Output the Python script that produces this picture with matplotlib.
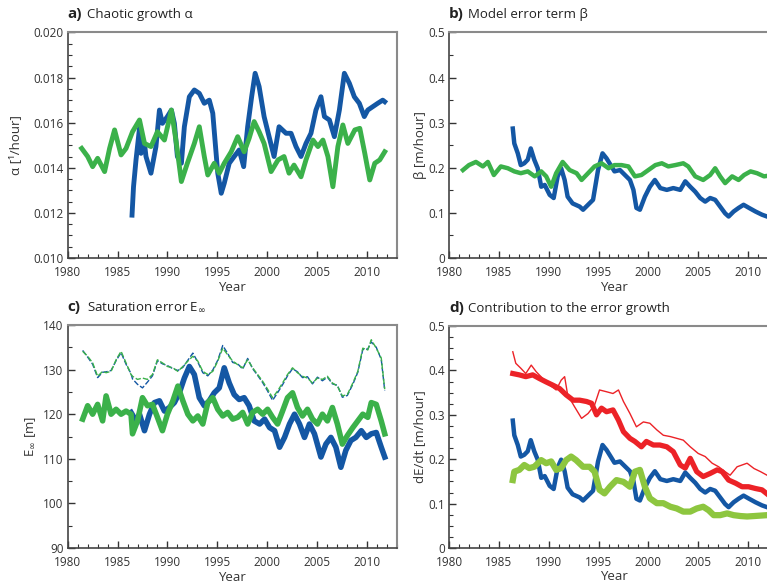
import matplotlib
matplotlib.use("Agg")
import matplotlib.pyplot as plt
from matplotlib.ticker import MultipleLocator, FormatStrFormatter

plt.rcParams['font.family'] = ['Open Sans', 'DejaVu Sans']

blue = "#1457a4"
green = "#3bb14a"
red = "#ec2227"
lightgreen = "#8dc63f"
textcol = "#333333"

# ---- panel a: chaotic growth alpha (units of 1e-3 /hour)
a_green_yr = [1981.4, 1982.0, 1982.5, 1983.0, 1983.7, 1984.2, 1984.7, 1985.35, 1985.85, 1986.5,
              1987.2, 1987.7, 1988.35, 1989.0, 1989.7, 1990.4, 1990.9, 1991.4, 1992.0, 1992.7,
              1993.2, 1993.7, 1994.05, 1994.7, 1995.2, 1995.7, 1996.4, 1997.05, 1997.7, 1998.2,
              1998.7, 1999.2, 1999.7, 2000.4, 2001.1, 2001.7, 2002.2, 2002.7, 2003.4, 2003.9,
              2004.6, 2005.1, 2005.6, 2006.1, 2006.6, 2007.1, 2007.6, 2008.1, 2008.8, 2009.3,
              2009.8, 2010.3, 2010.8, 2011.3, 2011.8]
a_green = [14.86, 14.5, 14.05, 14.42, 13.83, 14.86, 15.68, 14.57, 14.86, 15.6,
           16.12, 15.08, 14.94, 15.6, 15.23, 16.56, 15.08, 13.39, 14.2, 15.08,
           15.82, 14.5, 13.68, 14.2, 13.76, 14.2, 14.71, 15.38, 14.71, 15.31,
           16.05, 15.6, 15.08, 13.83, 14.35, 14.5, 13.76, 14.12, 13.6, 14.35,
           15.23, 14.94, 15.23, 14.5, 13.16, 14.94, 15.9, 15.08, 15.68, 15.75,
           14.64, 13.46, 14.2, 14.35, 14.71]
a_blue_yr = [1986.45, 1986.6, 1986.85, 1987.2, 1987.35, 1987.7, 1987.85, 1988.35, 1988.85, 1989.2,
             1989.5, 1990.0, 1990.4, 1990.7, 1991.0, 1991.4, 1991.7, 1992.2, 1992.7, 1993.2,
             1993.7, 1994.2, 1994.55, 1995.05, 1995.4, 1995.7, 1996.2, 1996.7, 1997.2, 1997.65,
             1998.05, 1998.45, 1998.8, 1999.2, 1999.7, 2000.2, 2000.7, 2001.2, 2001.9, 2002.4,
             2002.9, 2003.4, 2003.9, 2004.4, 2004.9, 2005.4, 2005.75, 2006.25, 2006.75, 2007.25,
             2007.75, 2008.25, 2008.75, 2009.25, 2009.75, 2010.1, 2010.6, 2011.1, 2011.6, 2011.8]
a_blue = [11.9, 13.16, 14.35, 15.75, 14.64, 15.08, 14.5, 13.76, 14.94, 16.56,
          15.97, 16.27, 16.56, 15.97, 14.5, 14.2, 15.82, 17.15, 17.45, 17.3,
          16.86, 17.0, 16.42, 13.76, 12.87, 13.31, 14.2, 14.5, 14.79, 14.05,
          15.82, 17.15, 18.19, 17.6, 16.27, 15.38, 14.5, 15.82, 15.53, 15.53,
          14.94, 14.5, 15.08, 15.53, 16.56, 17.15, 16.27, 16.12, 15.38, 16.56,
          18.19, 17.75, 17.15, 16.86, 16.27, 16.56, 16.71, 16.86, 17.0, 16.93]

# ---- panel b: model error term beta (m/hour), blue is reused in panel d
b_green_yr = [1981.4, 1982.0, 1982.7, 1983.4, 1983.9, 1984.5, 1985.2, 1985.9, 1986.55, 1987.2,
              1987.9, 1988.6, 1989.25, 1989.75, 1990.25, 1990.75, 1991.4, 1992.1, 1992.8, 1993.3,
              1993.95, 1994.6, 1995.3, 1996.0, 1996.6, 1997.3, 1998.0, 1998.65, 1999.3, 2000.0,
              2000.7, 2001.35, 2002.0, 2002.7, 2003.5, 2004.0, 2004.7, 2005.5, 2006.2, 2006.7,
              2007.2, 2007.7, 2008.4, 2009.05, 2009.6, 2010.25, 2010.9, 2011.6, 2011.9]
b_green = [0.195, 0.206, 0.213, 0.203, 0.213, 0.184, 0.203, 0.199, 0.192, 0.188,
           0.192, 0.181, 0.192, 0.181, 0.158, 0.188, 0.213, 0.195, 0.188, 0.173,
           0.188, 0.203, 0.210, 0.199, 0.206, 0.206, 0.203, 0.181, 0.184, 0.195,
           0.206, 0.210, 0.203, 0.206, 0.210, 0.203, 0.181, 0.173, 0.184, 0.199,
           0.181, 0.166, 0.181, 0.173, 0.184, 0.192, 0.188, 0.181, 0.182]
b_blue_yr = [1986.4, 1986.55, 1986.9, 1987.2, 1987.55, 1987.9, 1988.2, 1988.55, 1988.9, 1989.25,
             1989.6, 1990.1, 1990.5, 1990.9, 1991.25, 1991.6, 1991.9, 1992.4, 1993.1, 1993.45,
             1993.95, 1994.45, 1994.95, 1995.4, 1995.8, 1996.3, 1996.6, 1997.15, 1997.65, 1998.15,
             1998.5, 1998.8, 1999.15, 1999.65, 2000.15, 2000.65, 2001.2, 2001.85, 2002.5, 2003.2,
             2003.7, 2004.2, 2004.7, 2005.2, 2005.7, 2006.2, 2006.7, 2007.2, 2007.7, 2008.05,
             2008.55, 2009.05, 2009.55, 2010.1, 2010.75, 2011.4, 2011.9]
b_blue = [0.287, 0.254, 0.232, 0.206, 0.210, 0.218, 0.243, 0.218, 0.199, 0.158,
          0.162, 0.140, 0.133, 0.181, 0.199, 0.173, 0.136, 0.121, 0.114, 0.107,
          0.118, 0.129, 0.195, 0.232, 0.221, 0.203, 0.192, 0.195, 0.184, 0.173,
          0.151, 0.111, 0.107, 0.136, 0.158, 0.173, 0.155, 0.151, 0.155, 0.151,
          0.170, 0.158, 0.147, 0.133, 0.125, 0.133, 0.129, 0.114, 0.099, 0.092,
          0.103, 0.111, 0.118, 0.111, 0.103, 0.096, 0.092]

# ---- panel c: saturation error (m)
c_yr = [1981.5, 1982.0, 1982.5, 1983.0, 1983.5, 1983.85, 1984.35, 1984.85, 1985.35, 1985.85,
        1986.35, 1986.5, 1987.0, 1987.5, 1988.0, 1988.5, 1989.0, 1989.5, 1990.0, 1990.55,
        1991.05, 1991.55, 1992.05, 1992.55, 1993.05, 1993.55, 1994.05, 1994.55, 1995.05, 1995.55,
        1996.05, 1996.55, 1997.05, 1997.55, 1998.05, 1998.55, 1999.05, 1999.55, 2000.05, 2000.55,
        2001.05, 2001.55, 2002.05, 2002.55, 2003.05, 2003.55, 2004.05, 2004.55, 2005.05, 2005.55,
        2006.05, 2006.55, 2007.05, 2007.55, 2008.05, 2008.6, 2009.1, 2009.6, 2010.1, 2010.45,
        2010.95, 2011.45, 2011.8]
c_green = [118.9, 121.9, 120.0, 122.2, 118.5, 124.1, 120.0, 121.1, 120.0, 120.7,
           120.0, 115.6, 118.5, 123.7, 121.9, 122.2, 119.3, 116.3, 120.0, 123.0,
           126.3, 123.0, 120.0, 118.5, 119.6, 117.8, 122.6, 123.7, 121.1, 119.6,
           120.4, 118.9, 119.3, 120.4, 117.8, 120.4, 121.1, 120.0, 121.1, 119.3,
           117.8, 120.7, 123.7, 124.8, 121.5, 119.6, 121.1, 118.9, 117.8, 120.0,
           118.5, 121.5, 117.8, 113.3, 115.2, 117.0, 118.5, 120.0, 119.3, 122.6,
           122.2, 118.5, 115.6]
c_green_dash = [134.1, 133.0, 131.5, 128.5, 129.6, 129.3, 129.6, 132.2, 134.1, 131.5,
                128.9, 128.5, 127.8, 128.1, 127.8, 128.9, 132.2, 131.5, 130.7, 130.4,
                129.6, 130.7, 131.9, 133.0, 131.9, 129.6, 128.9, 129.6, 131.9, 134.8,
                133.3, 131.9, 131.1, 130.4, 132.2, 130.4, 128.9, 127.4, 125.6, 123.7,
                125.2, 127.0, 128.9, 130.4, 129.3, 128.5, 128.1, 127.0, 128.1, 127.8,
                128.5, 127.0, 126.3, 124.1, 124.4, 127.0, 129.6, 134.8, 134.4, 136.7,
                134.8, 132.6, 125.6]
c_blue_dash = [134.3, 132.8, 131.2, 128.2, 129.4, 129.5, 129.8, 132.0, 133.8, 131.2,
               129.1, 127.9, 126.7, 125.9, 127.2, 128.6, 132.0, 131.3, 130.9, 130.2,
               129.8, 130.5, 132.1, 133.7, 131.7, 129.3, 128.6, 129.9, 132.1, 135.4,
               133.6, 131.6, 131.3, 130.1, 132.5, 130.2, 128.7, 127.1, 125.2, 123.1,
               124.8, 126.6, 128.6, 130.2, 129.5, 128.2, 128.4, 126.8, 128.3, 127.5,
               128.3, 126.8, 126.5, 123.8, 124.2, 126.7, 129.4, 134.5, 134.6, 136.2,
               135.0, 132.3, 125.3]
c_blue_yr = [1986.35, 1986.85, 1987.2, 1987.7, 1988.2, 1988.7, 1989.2, 1989.7, 1990.2, 1990.7,
             1991.2, 1991.7, 1992.2, 1992.7, 1993.2, 1993.7, 1994.2, 1994.7, 1995.2, 1995.7,
             1996.2, 1996.7, 1997.2, 1997.7, 1998.2, 1998.7, 1999.25, 1999.75, 2000.25, 2000.75,
             2001.25, 2001.75, 2002.25, 2002.75, 2003.25, 2003.75, 2004.25, 2004.75, 2005.4, 2005.9,
             2006.4, 2006.9, 2007.4, 2007.9, 2008.4, 2008.9, 2009.45, 2009.95, 2010.45, 2010.95,
             2011.45, 2011.8]
c_blue = [120.4, 118.5, 120.0, 116.3, 120.0, 122.6, 123.0, 120.7, 121.5, 122.6,
          124.8, 128.1, 130.7, 128.9, 123.7, 121.9, 123.0, 124.8, 125.9, 130.4,
          127.0, 124.4, 123.3, 123.7, 121.9, 118.5, 117.8, 118.9, 117.0, 116.3,
          112.6, 114.8, 117.8, 120.0, 117.8, 114.8, 117.8, 115.6, 110.4, 113.3,
          114.8, 112.6, 108.1, 111.9, 114.1, 114.8, 116.3, 114.8, 115.6, 115.9,
          112.6, 110.4]

# ---- panel d: contribution to the error growth (m/hour)
d_red_thin_yr = [1986.4, 1986.7, 1987.2, 1987.7, 1988.25, 1988.75, 1989.4, 1990.1, 1990.75, 1991.25,
                 1991.6, 1991.9, 1992.6, 1993.3, 1993.95, 1994.6, 1995.1, 1995.8, 1996.45, 1997.0,
                 1997.5, 1998.15, 1998.8, 1999.5, 2000.15, 2000.85, 2001.5, 2002.2, 2002.85, 2003.5,
                 2004.2, 2005.0, 2005.7, 2006.4, 2007.05, 2007.7, 2008.2, 2008.9, 2009.4, 2009.9,
                 2010.6, 2011.25, 2011.9]
d_red_thin = [0.442, 0.416, 0.405, 0.393, 0.412, 0.397, 0.382, 0.367, 0.356, 0.378,
              0.386, 0.345, 0.318, 0.292, 0.303, 0.322, 0.356, 0.352, 0.348, 0.356,
              0.330, 0.303, 0.273, 0.284, 0.281, 0.266, 0.254, 0.251, 0.247, 0.243,
              0.228, 0.213, 0.206, 0.191, 0.183, 0.172, 0.164, 0.183, 0.187, 0.191,
              0.179, 0.172, 0.164]
d_red_yr = [1986.4, 1987.05, 1987.7, 1988.4, 1989.05, 1989.75, 1990.4, 1991.1, 1991.75, 1992.45,
            1993.1, 1993.8, 1994.3, 1994.8, 1995.3, 1995.8, 1996.45, 1997.0, 1997.5, 1998.15,
            1998.65, 1999.3, 1999.8, 2000.5, 2001.15, 2001.85, 2002.5, 2003.2, 2003.7, 2004.2,
            2004.85, 2005.5, 2006.2, 2006.9, 2007.4, 2008.05, 2008.75, 2009.4, 2010.05, 2010.75,
            2011.4, 2011.9]
d_red = [0.393, 0.390, 0.386, 0.390, 0.382, 0.374, 0.367, 0.359, 0.345, 0.333,
         0.333, 0.330, 0.326, 0.300, 0.315, 0.307, 0.311, 0.288, 0.262, 0.247,
         0.240, 0.228, 0.240, 0.232, 0.232, 0.228, 0.217, 0.187, 0.180, 0.202,
         0.172, 0.161, 0.168, 0.176, 0.172, 0.153, 0.146, 0.138, 0.138, 0.134,
         0.131, 0.122]
d_green_yr = [1986.4, 1986.55, 1987.05, 1987.55, 1988.05, 1988.55, 1989.25, 1989.75, 1990.25, 1990.75,
              1991.25, 1991.75, 1992.25, 1992.75, 1993.45, 1994.1, 1994.6, 1995.1, 1995.6, 1996.15,
              1996.8, 1997.5, 1998.15, 1998.65, 1999.15, 1999.65, 2000.15, 2000.85, 2001.5, 2002.2,
              2002.85, 2003.5, 2004.2, 2004.85, 2005.5, 2006.05, 2006.55, 2007.2, 2007.9, 2008.55,
              2009.25, 2009.9, 2010.6, 2011.25, 2011.9]
d_green = [0.153, 0.172, 0.176, 0.187, 0.180, 0.183, 0.198, 0.191, 0.195, 0.176,
           0.180, 0.198, 0.206, 0.198, 0.183, 0.183, 0.172, 0.131, 0.123, 0.138,
           0.153, 0.149, 0.138, 0.172, 0.176, 0.138, 0.112, 0.101, 0.101, 0.093,
           0.089, 0.082, 0.082, 0.089, 0.093, 0.085, 0.074, 0.074, 0.078, 0.074,
           0.072, 0.071, 0.072, 0.073, 0.074]


fig = plt.figure(figsize=(7.67, 5.82), dpi=100)
ax_a = fig.add_axes([0.0883, 0.5567, 0.4289, 0.3875])
ax_b = fig.add_axes([0.5854, 0.5567, 0.4289, 0.3875])
ax_c = fig.add_axes([0.0883, 0.0584, 0.4289, 0.3832])
ax_d = fig.add_axes([0.5854, 0.0584, 0.4289, 0.3814])

ax_a.plot(a_blue_yr, [v / 1000 for v in a_blue], color=blue, lw=3.5)
ax_a.plot(a_green_yr, [v / 1000 for v in a_green], color=green, lw=3.5)

ax_b.plot(b_blue_yr, b_blue, color=blue, lw=3.2)
ax_b.plot(b_green_yr, b_green, color=green, lw=3.2)

ax_c.plot(c_yr, c_blue_dash, color=blue, lw=1, dashes=(4, 1.5))
ax_c.plot(c_yr, c_green_dash, color=green, lw=1, dashes=(4, 1.5))
ax_c.plot(c_blue_yr, c_blue, color=blue, lw=4)
ax_c.plot(c_yr, c_green, color=green, lw=4)

ax_d.plot(d_red_thin_yr, d_red_thin, color=red, lw=1)
ax_d.plot(d_red_yr, d_red, color=red, lw=3.8)
ax_d.plot(b_blue_yr, b_blue, color=blue, lw=3.2)
ax_d.plot(d_green_yr, d_green, color=lightgreen, lw=4.5)

# (axes, letter, title, ylabel, ylim, major, minor, format, ylabel x position)
panels = [
    (ax_a, "a)", "Chaotic growth α", "α [¹/hour]", (0.010, 0.020), 0.002, 0.0005, "%.3f", -0.16),
    (ax_b, "b)", "Model error term β", "β [m/hour]", (0, 0.5), 0.1, 0.05, None, -0.088),
    (ax_c, "c)", "Saturation error E$_\\infty$", "E$_\\infty$ [m]", (90, 140), 10, 5, "%d", -0.112),
    (ax_d, "d)", "Contribution to the error growth", "dE/dt [m/hour]", (0, 0.5), 0.1, 0.025, None, -0.088),
]

for ax, letter, title, ylab, ylim, major, minor, fmt, ylx in panels:
    ax.set_xlim(1980, 2013)
    ax.set_ylim(*ylim)
    ax.xaxis.set_major_locator(MultipleLocator(5))
    ax.xaxis.set_minor_locator(MultipleLocator(1))
    ax.yaxis.set_major_locator(MultipleLocator(major))
    ax.yaxis.set_minor_locator(MultipleLocator(minor))
    if fmt:
        ax.yaxis.set_major_formatter(FormatStrFormatter(fmt))
    else:
        ax.yaxis.set_major_formatter(plt.FuncFormatter(lambda v, p: "0" if v == 0 else "%.1f" % v))
    ax.tick_params(which="both", direction="in", colors=textcol, labelsize=8.5, pad=3)
    ax.tick_params(axis="x", pad=6)
    ax.tick_params(which="major", length=5, width=1)
    ax.tick_params(which="minor", length=3, width=0.8)
    ax.tick_params(top=False, right=False, which="both")
    for side in ["left", "bottom"]:
        ax.spines[side].set_color("#444444")
        ax.spines[side].set_linewidth(1.2)
    for side in ["top", "right"]:
        ax.spines[side].set_color("#8a8a8a")
        ax.spines[side].set_linewidth(1.5)
    ax.set_xlabel("Year", fontsize=9.5, color=textcol, va="center")
    ax.xaxis.set_label_coords(0.5, -0.13)
    ax.set_ylabel(ylab, fontsize=9.5, color=textcol, va="center")
    ax.yaxis.set_label_coords(ylx, 0.5)
    ax.annotate(letter, xy=(0, 1), xycoords="axes fraction", xytext=(0, 8),
                textcoords="offset points", fontsize=11, fontweight="bold",
                color="#222222", ha="left", va="bottom")
    ax.annotate(title, xy=(0, 1), xycoords="axes fraction", xytext=(14, 8),
                textcoords="offset points", fontsize=9.5, color="#222222",
                ha="left", va="bottom")

plt.savefig("out.png", dpi=100)
